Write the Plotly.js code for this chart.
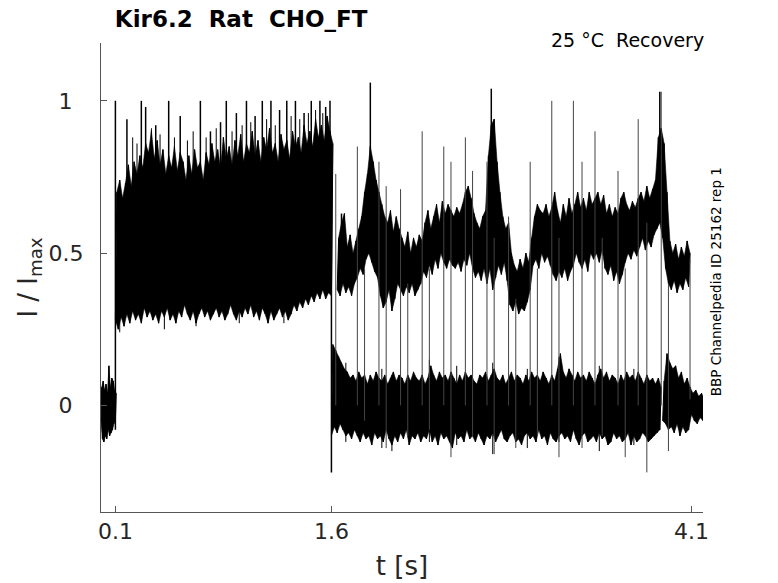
<!DOCTYPE html>
<html>
<head>
<meta charset="utf-8">
<script src="https://cdn.plot.ly/plotly-3.0.1.min.js"></script>
<style>html,body{margin:0;padding:0;background:#fff;}#chart{width:778px;height:583px;}</style>
</head>
<body>
<div id="chart"></div>
<script>
// ---- tick labels ----
const xTickVals = [0.1, 1.6, 4.1];
const xTickText = ['0.1', '1.6', '4.1'];
const yTickVals = [0, 0.5, 1];
const yTickText = ['0\u2002', '0.5', '1\u2002'];

// ---- baseline before activation (t0 = 0, dt = 0.01 s), min / max per bin ----
const baseT0 = 0.0, baseDt = 0.01;
const baseLo = [-0.05,-0.11,-0.12,-0.10,-0.11,-0.08,-0.10,-0.09,-0.08,-0.06,-0.05];
const baseHi = [0.06,0.08,0.05,0.07,0.04,0.13,0.06,0.09,0.08,0.05,0.04];

// ---- open phase 0.1 - 1.6 s (dt = 0.02 s) ----
const openT0 = 0.10, openDt = 0.02;
const openLo = [0.28,0.25,0.29,0.26,0.30,0.27,0.31,0.28,0.30,0.27,
                0.32,0.29,0.31,0.28,0.30,0.27,0.31,0.29,0.32,0.28,
                0.30,0.27,0.31,0.29,0.33,0.30,0.28,0.31,0.27,0.30,
                0.32,0.29,0.31,0.28,0.30,0.32,0.29,0.31,0.28,0.30,
                0.33,0.30,0.28,0.31,0.29,0.32,0.30,0.33,0.29,0.31,
                0.28,0.32,0.30,0.27,0.31,0.28,0.30,0.32,0.29,0.31,
                0.28,0.30,0.33,0.31,0.34,0.32,0.35,0.33,0.36,0.34,
                0.37,0.35,0.38,0.35,0.37,0.36];
const openHi = [0.70,0.74,0.68,0.73,0.79,0.72,0.80,0.76,0.82,0.78,
                0.86,0.83,0.90,0.81,0.87,0.79,0.84,0.76,0.82,0.78,
                0.85,0.77,0.83,0.80,0.74,0.82,0.76,0.84,0.78,0.80,
                0.74,0.83,0.79,0.86,0.80,0.84,0.78,0.88,0.81,0.85,
                0.79,0.87,0.82,0.89,0.80,0.86,0.83,0.90,0.82,0.87,
                0.80,0.88,0.84,0.91,0.83,0.86,0.80,0.89,0.84,0.87,
                0.81,0.90,0.85,0.88,0.83,0.92,0.86,0.90,0.85,0.94,
                0.88,0.92,0.87,0.95,0.90,0.86];

// ---- closed level 1.6 - 3.88 s (dt = 0.02 s) ----
const closedT0 = 1.60, closedDt = 0.02;
const closedLo = [-0.10,-0.07,-0.09,-0.06,-0.08,-0.10,-0.09,-0.11,-0.08,-0.10,
                  -0.12,-0.09,-0.11,-0.10,-0.13,-0.09,-0.11,-0.10,-0.12,-0.08,
                  -0.11,-0.13,-0.10,-0.12,-0.09,-0.11,-0.08,-0.13,-0.10,-0.11,
                  -0.09,-0.12,-0.10,-0.11,-0.08,-0.12,-0.10,-0.13,-0.09,-0.11,
                  -0.10,-0.12,-0.14,-0.09,-0.11,-0.10,-0.12,-0.08,-0.11,-0.10,
                  -0.12,-0.09,-0.11,-0.13,-0.10,-0.11,-0.09,-0.12,-0.10,-0.08,
                  -0.11,-0.12,-0.10,-0.09,-0.12,-0.11,-0.13,-0.10,-0.09,-0.11,
                  -0.10,-0.12,-0.08,-0.11,-0.10,-0.13,-0.09,-0.11,-0.12,-0.10,
                  -0.09,-0.11,-0.10,-0.12,-0.08,-0.11,-0.13,-0.10,-0.09,-0.12,
                  -0.11,-0.10,-0.12,-0.09,-0.11,-0.10,-0.13,-0.12,-0.09,-0.11,
                  -0.10,-0.12,-0.11,-0.09,-0.13,-0.10,-0.12,-0.11,-0.09,-0.10,
                  -0.12,-0.11,-0.10,-0.09,-0.08];
const closedHi = [0.20,0.18,0.16,0.14,0.12,0.11,0.09,0.10,0.08,0.11,
                  0.09,0.10,0.07,0.10,0.08,0.11,0.09,0.08,0.10,0.07,
                  0.09,0.11,0.08,0.10,0.09,0.07,0.10,0.08,0.11,0.09,
                  0.08,0.10,0.07,0.09,0.13,0.10,0.08,0.11,0.09,0.10,
                  0.08,0.11,0.09,0.07,0.10,0.08,0.11,0.09,0.10,0.08,
                  0.07,0.10,0.09,0.11,0.08,0.10,0.12,0.09,0.08,0.10,
                  0.07,0.09,0.11,0.08,0.10,0.09,0.07,0.10,0.08,0.11,
                  0.09,0.10,0.08,0.11,0.09,0.07,0.10,0.08,0.12,0.17,
                  0.11,0.09,0.12,0.10,0.08,0.11,0.09,0.10,0.08,0.11,
                  0.09,0.07,0.10,0.12,0.09,0.11,0.08,0.10,0.09,0.07,
                  0.10,0.08,0.11,0.09,0.10,0.08,0.11,0.09,0.07,0.10,
                  0.08,0.09,0.07,0.09,0.06];

// ---- open (flickering) level 1.64 - 4.08 s (dt = 0.02 s) ----
const upT0 = 1.64, upDt = 0.02;
const upLo = [0.38,0.36,0.40,0.37,0.39,0.36,0.40,0.42,0.45,0.43,
              0.48,0.50,0.47,0.44,0.42,0.36,0.32,0.34,0.38,0.31,
              0.35,0.40,0.38,0.36,0.39,0.37,0.40,0.36,0.38,0.40,
              0.44,0.42,0.46,0.43,0.48,0.45,0.50,0.47,0.45,0.48,
              0.46,0.45,0.47,0.44,0.48,0.46,0.50,0.45,0.42,0.44,
              0.41,0.45,0.40,0.45,0.38,0.42,0.46,0.43,0.47,0.41,
              0.33,0.31,0.34,0.30,0.32,0.31,0.34,0.38,0.46,0.48,
              0.45,0.50,0.47,0.49,0.46,0.43,0.41,0.44,0.42,0.45,
              0.41,0.44,0.46,0.50,0.47,0.45,0.48,0.44,0.50,0.48,
              0.50,0.47,0.51,0.45,0.43,0.46,0.41,0.44,0.40,0.43,
              0.47,0.50,0.48,0.51,0.49,0.52,0.55,0.51,0.54,0.52,
              0.56,0.58,0.60,0.55,0.45,0.40,0.38,0.41,0.37,0.40,
              0.38,0.42,0.39];
const upHi = [0.55,0.60,0.63,0.52,0.56,0.50,0.54,0.58,0.62,0.70,
              0.76,0.85,0.80,0.74,0.70,0.66,0.62,0.60,0.64,0.57,
              0.62,0.58,0.55,0.52,0.57,0.50,0.55,0.52,0.56,0.54,
              0.60,0.64,0.58,0.62,0.66,0.60,0.67,0.63,0.66,0.64,
              0.62,0.65,0.63,0.66,0.70,0.72,0.68,0.63,0.60,0.58,
              0.62,0.64,0.82,0.92,0.94,0.80,0.70,0.62,0.58,0.60,
              0.50,0.46,0.44,0.48,0.45,0.50,0.47,0.55,0.62,0.66,
              0.64,0.63,0.66,0.62,0.65,0.70,0.64,0.60,0.66,0.62,
              0.68,0.63,0.66,0.70,0.65,0.68,0.64,0.70,0.66,0.68,
              0.70,0.66,0.69,0.63,0.66,0.62,0.65,0.63,0.68,0.70,
              0.66,0.64,0.67,0.65,0.68,0.70,0.67,0.72,0.68,0.71,
              0.74,0.88,0.91,0.86,0.70,0.54,0.50,0.53,0.48,0.52,
              0.49,0.54,0.50];

// ---- closed level after the pulse train 3.90 - 4.18 s (dt = 0.02 s) ----
const tailT0 = 3.90, tailDt = 0.02;
const tailLo = [-0.05,-0.06,-0.08,-0.07,-0.09,-0.06,-0.10,-0.07,-0.09,-0.08,-0.03,-0.05,-0.06,-0.04,-0.05];
const tailHi = [0.08,0.17,0.14,0.12,0.13,0.09,0.11,0.07,0.09,0.06,0.04,0.05,0.03,0.04,0.02];

// ---- large brief spikes (time, low, high) ----
const spikeT  = [0.10,0.18,0.28,0.31,0.38,0.47,0.55,0.69,0.76,0.83,
                 0.87,0.94,1.01,1.07,1.12,1.18,1.24,1.29,1.35,1.41,
                 1.46,1.52,1.56,1.59,1.60,1.67,1.87,2.71,3.88];
const spikeLo = [-0.08,0.55,0.55,0.55,0.55,0.55,0.55,0.55,0.55,0.55,
                 0.55,0.55,0.55,0.55,0.55,0.55,0.55,0.55,0.55,0.55,
                 0.55,0.55,0.55,0.55,-0.22,0.45,0.55,0.55,0.60];
const spikeHi = [1.00,0.94,1.00,0.98,0.92,1.00,0.95,1.00,0.90,0.93,
                 1.00,0.96,1.00,0.95,1.00,1.00,0.97,1.00,1.00,0.96,
                 1.00,1.00,0.98,1.00,0.62,0.63,1.06,1.04,1.03];

// ---- small noise excursions (time, low, high) ----
const noiseT  = [0.13,0.22,0.25,0.35,0.41,0.44,0.51,0.60,0.64,0.66,
                 0.73,0.80,0.91,0.96,0.98,1.04,1.15,1.21,1.27,1.32,
                 1.38,1.44,1.49,1.54,
                 1.70,1.95,2.02,2.28,2.47,2.72,2.96,3.18,3.46,3.70];
const noiseLo = [0.24,0.50,0.50,0.50,0.50,0.25,0.50,0.50,0.50,0.26,
                 0.50,0.50,0.50,0.27,0.50,0.50,0.50,0.50,0.27,0.50,
                 0.50,0.50,0.50,0.50,
                 -0.12,-0.14,-0.15,-0.12,-0.13,-0.16,-0.14,-0.12,-0.15,-0.13];
const noiseHi = [0.60,0.88,0.86,0.91,0.89,0.60,0.88,0.87,0.90,0.60,
                 0.88,0.91,0.90,0.60,0.92,0.93,0.94,0.92,0.60,0.95,
                 0.94,0.96,0.97,0.96,
                 0.14,0.12,0.10,0.15,0.13,0.14,0.12,0.16,0.13,0.12];

// ---- open/closed transitions during the pulse train (time, low, high) ----
const connT  = [1.63,1.78,1.83,1.93,1.98,2.08,2.13,2.23,2.28,2.38,
                2.43,2.53,2.58,2.68,2.73,2.83,2.88,2.98,3.03,3.13,
                3.18,3.28,3.34,3.43,3.48,3.59,3.64,3.73,3.79,3.89,
                3.94,4.09];
const connLo = [0.00,0.00,-0.05,0.00,-0.14,0.00,-0.10,0.00,-0.08,0.00,
                -0.17,0.00,-0.10,0.00,-0.16,0.00,-0.14,0.00,-0.10,0.00,
                -0.17,0.00,-0.14,0.00,-0.10,0.00,-0.17,0.00,-0.22,0.00,
                -0.15,0.02];
const connHi = [0.76,0.85,0.45,0.80,0.72,0.71,0.40,0.90,0.45,0.85,
                0.80,0.88,0.77,0.80,0.55,0.62,0.35,0.80,0.45,1.00,
                0.55,1.00,0.80,0.90,0.55,0.77,0.45,0.94,0.60,1.03,
                0.40,0.48];

// ---- builders ----
function band(t0, dt, lo, hi) {
  const x = [], y = [];
  for (let i = 0; i < lo.length; i++) {
    x.push(t0 + i * dt, t0 + (i + 0.5) * dt);
    y.push(lo[i], hi[i]);
  }
  return {x: x, y: y, type: 'scatter', mode: 'lines', hoverinfo: 'skip',
          line: {color: '#000', width: 1, simplify: false}, showlegend: false};
}
function bandFill(t0, dt, lo, hi) {
  const x = [], y = [];
  for (let i = 0; i < hi.length; i++) { x.push(t0 + (i + 0.5) * dt); y.push(hi[i]); }
  for (let i = lo.length - 1; i >= 0; i--) { x.push(t0 + i * dt); y.push(lo[i]); }
  return {x: x, y: y, type: 'scatter', mode: 'lines', fill: 'toself', fillcolor: '#000',
          hoverinfo: 'skip', line: {color: '#000', width: 0.6, simplify: false}, showlegend: false};
}
function segs(t, lo, hi, w, c) {
  const x = [], y = [];
  for (let i = 0; i < t.length; i++) {
    x.push(t[i], t[i], null);
    y.push(lo[i], hi[i], null);
  }
  return {x: x, y: y, type: 'scatter', mode: 'lines', hoverinfo: 'skip',
          line: {color: c, width: w}, showlegend: false, connectgaps: false};
}

const bands = [
  [baseT0, baseDt, baseLo, baseHi],
  [openT0, openDt, openLo, openHi],
  [closedT0, closedDt, closedLo, closedHi],
  [upT0, upDt, upLo, upHi],
  [tailT0, tailDt, tailLo, tailHi]
];
const data = [];
bands.forEach(b => data.push(bandFill(b[0], b[1], b[2], b[3])));
bands.forEach(b => data.push(band(b[0], b[1], b[2], b[3])));
data.push(segs(noiseT, noiseLo, noiseHi, 1, '#000'));
data.push(segs(connT, connLo, connHi, 1, '#444'));
data.push(segs(spikeT, spikeLo, spikeHi, 1.5, '#000'));

const FONT = 'DejaVu Sans, Verdana, sans-serif';
const layout = {
  width: 778, height: 583,
  margin: {l: 101, r: 75, t: 43, b: 71},
  paper_bgcolor: '#fff', plot_bgcolor: '#fff',
  showlegend: false,
  title: {
    text: '<b>Kir6.2  Rat  CHO_FT</b>',
    font: {family: FONT, size: 23, color: '#000'},
    x: 0.023, xref: 'paper', xanchor: 'left',
    y: 0.968, yref: 'container', yanchor: 'middle'
  },
  xaxis: {
    range: [0, 4.18],
    tickvals: xTickVals, ticktext: xTickText,
    ticks: 'inside', ticklen: 6, tickwidth: 1, tickcolor: '#555',
    showline: true, linecolor: '#555', linewidth: 1,
    showgrid: false, zeroline: false, mirror: false,
    tickfont: {family: FONT, size: 22, color: '#262626'},
    title: {text: 't [s]', font: {family: FONT, size: 26, color: '#262626'}, standoff: 13},
    automargin: false, fixedrange: true
  },
  yaxis: {
    range: [-0.35, 1.19],
    tickvals: yTickVals, ticktext: yTickText,
    ticks: 'inside', ticklen: 6, tickwidth: 1, tickcolor: '#555',
    ticklabelstandoff: 12,
    showline: true, linecolor: '#555', linewidth: 1,
    showgrid: false, zeroline: false, mirror: false,
    tickfont: {family: FONT, size: 22, color: '#262626'},
    title: {text: 'I / I<sub>max</sub>', font: {family: FONT, size: 26, color: '#262626'}, standoff: 3},
    automargin: false, fixedrange: true
  },
  annotations: [
    {text: '25 °C  Recovery', xref: 'paper', yref: 'paper', x: 1.0, y: 1.006,
     xanchor: 'right', yanchor: 'middle', showarrow: false, xshift: 3,
     font: {family: FONT, size: 19, color: '#000'}},
    {text: 'BBP Channelpedia ID 25162 rep 1', xref: 'paper', yref: 'paper',
     x: 1.0216, y: 0.49, xanchor: 'center', yanchor: 'middle', textangle: -90,
     showarrow: false, font: {family: FONT, size: 13.5, color: '#000'}}
  ]
};

Plotly.newPlot('chart', data, layout, {displayModeBar: false, staticPlot: true});
</script>
</body>
</html>
